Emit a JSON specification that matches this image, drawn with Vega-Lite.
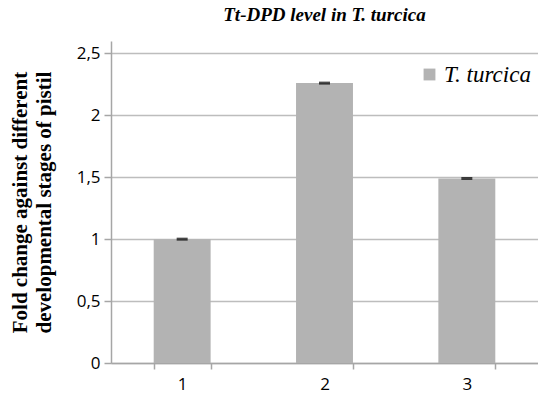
{
  "$schema": "https://vega.github.io/schema/vega-lite/v6.json",
  "width": 427,
  "height": 322,
  "autosize": "none",
  "padding": {"left": 111, "top": 41, "right": 0, "bottom": 39},
  "background": "white",
  "title": {
    "text": "Tt-DPD level in T. turcica",
    "font": "Liberation Serif",
    "fontSize": 19,
    "fontWeight": "bold",
    "fontStyle": "italic",
    "color": "#000000",
    "anchor": "middle",
    "offset": 16
  },
  "data": {
    "values": [
      {"stage": "1", "value": 1.0, "series": "T. turcica"},
      {"stage": "2", "value": 2.26, "series": "T. turcica"},
      {"stage": "3", "value": 1.49, "series": "T. turcica"}
    ]
  },
  "config": {
    "view": {"stroke": null},
    "axis": {
      "gridColor": "#bdbdbd",
      "domainColor": "#a6a6a6",
      "tickColor": "#a6a6a6",
      "labelFont": "Open Sans",
      "labelFontSize": 17,
      "labelColor": "#000000",
      "tickWidth": 1.5,
      "domainWidth": 1.5
    },
    "axisY": {"labelFontSize": 17, "labelPadding": 4, "tickSize": 7, "gridWidth": 1.5},
    "axisX": {"labelFontSize": 17, "labelPadding": 7, "tickSize": 6}
  },
  "encoding": {
    "x": {
      "field": "stage",
      "type": "nominal",
      "scale": {"paddingInner": 0.6, "paddingOuter": 0.3},
      "axis": {
        "title": null,
        "labelAngle": 0,
        "ticks": true,
        "tickBand": "extent",
        "grid": false
      }
    }
  },
  "layer": [
    {
      "mark": {"type": "bar", "color": "#b3b3b3"},
      "encoding": {
        "y": {
          "field": "value",
          "type": "quantitative",
          "scale": {"domain": [0, 2.5]},
          "axis": {
            "values": [0, 0.5, 1, 1.5, 2, 2.5],
            "labelExpr": "replace(format(datum.value, ''), '.', ',')",
            "title": ["Fold change against different", "developmental stages of pistil"],
            "titleFont": "Liberation Serif",
            "titleFontSize": 21,
            "titleFontWeight": "bold",
            "titleColor": "#000000",
            "titlePadding": 22,
            "titleLineHeight": 24,
            "grid": true
          }
        },
        "color": {
          "field": "series",
          "type": "nominal",
          "scale": {"range": ["#b3b3b3"]},
          "legend": {
            "title": null,
            "orient": "none",
            "legendX": 307,
            "legendY": 22,
            "symbolType": "square",
            "symbolSize": 140,
            "symbolStrokeWidth": 0,
            "labelFont": "Liberation Serif",
            "labelFontStyle": "italic",
            "labelFontSize": 23,
            "labelColor": "#000000",
            "labelOffset": 3
          }
        }
      }
    },
    {
      "mark": {"type": "tick", "color": "#000000", "thickness": 3, "size": 11},
      "encoding": {
        "y": {"field": "value", "type": "quantitative"}
      }
    }
  ]
}
